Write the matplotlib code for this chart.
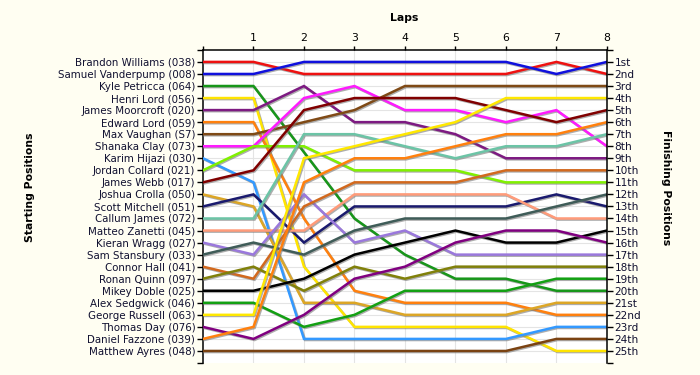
import numpy as np
import matplotlib
matplotlib.use('Agg')
import matplotlib.pyplot as plt
import matplotlib.patheffects as pe

laps = [0, 1, 2, 3, 4, 5, 6, 7, 8]

drivers = ['Brandon Williams (038)', 'Samuel Vanderpump (008)', 'Kyle Petricca (064)',
           'Henri Lord (056)', 'James Moorcroft (020)', 'Edward Lord (059)', 'Max Vaughan (S7)',
           'Shanaka Clay (073)', 'Karim Hijazi (030)', 'Jordan Collard (021)', 'James Webb (017)',
           'Joshua Crolla (050)', 'Scott Mitchell (051)', 'Callum James (072)',
           'Matteo Zanetti (045)', 'Kieran Wragg (027)', 'Sam Stansbury (033)',
           'Connor Hall (041)', 'Ronan Quinn (097)', 'Mikey Doble (025)', 'Alex Sedgwick (046)',
           'George Russell (063)', 'Thomas Day (076)', 'Daniel Fazzone (039)',
           'Matthew Ayres (048)']

colors = ['#ee1111', '#1010dd', '#17961a', '#ffe400', '#7d1a82', '#ff800e', '#7f4a16',
          '#ff1aff', '#3399ff', '#80f000', '#800000', '#dca626', '#1a1a6e', '#6cc4a6',
          '#ff9b7a', '#9a78dc', '#3f5c58', '#d2691e', '#80800a', '#000000', '#13a013',
          '#ffe800', '#800080', '#ff800e', '#7a4212']

# position after each lap (lap 0 = grid), None = no reading
positions = [
    [1, 1, 2, 2, 2, 2, 2, 1, 2],
    [2, 2, 1, 1, 1, 1, 1, 2, 1],
    [3, 3, None, 14, 17, 19, 19, 20, 20],
    [4, 4, 18, 23, 23, 23, 23, 25, 25],
    [5, 5, 3, 6, 6, 7, 9, 9, 9],
    [6, 6, 14, 20, 21, 21, 21, 22, 22],
    [7, 7, 6, 5, 3, 3, 3, 3, 3],
    [8, 8, 4, 3, 5, 5, 6, 5, 8],
    [9, 11, 24, 24, 24, 24, 24, 23, 23],
    [10, 8, 8, 10, 10, 10, 11, 11, 11],
    [11, 10, 5, 4, 4, 4, 5, 6, 5],
    [12, 13, 21, 21, 22, 22, 22, 21, 21],
    [13, 12, 16, 13, 13, 13, 13, 12, 13],
    [14, 14, 7, 7, 8, 9, 8, 8, 7],
    [15, 15, 15, 12, 12, 12, 12, 14, 14],
    [16, 17, 12, 16, 15, 17, 17, 17, 17],
    [17, 16, 17, 15, 14, 14, 14, 13, 12],
    [18, 19, 13, 11, 11, 11, 10, 10, 10],
    [19, 18, 20, 18, 19, 18, 18, 18, 18],
    [20, 20, 19, 17, 16, 15, 16, 16, 15],
    [21, 21, 23, 22, 20, 20, 20, 19, 19],
    [22, 22, 9, 8, 7, 6, 4, 4, 4],
    [23, 24, 22, 19, 18, 16, 15, 15, 16],
    [24, 23, 11, 9, 9, 8, 7, 7, 6],
    [25, 25, 25, 25, 25, 25, 25, 24, 24],
]

finish_labels = ['1st', '2nd', '3rd', '4th', '5th', '6th', '7th', '8th', '9th', '10th',
                 '11th', '12th', '13th', '14th', '15th', '16th', '17th', '18th', '19th',
                 '20th', '21st', '22nd', '23rd', '24th', '25th']

bg = '#fffef2'
plt.rcParams['font.family'] = ['DejaVu Sans']

fig = plt.figure(figsize=(7, 3.75), dpi=100, facecolor=bg)
ax = fig.add_axes([0.29, 0.032, 0.577, 0.835])
ax.set_facecolor('white')

n = len(drivers)
ax.set_xlim(0, 8)
ax.set_ylim(n + 1, 0)

for k in range(1, n + 1):
    ax.axhline(k, color='#e4e4e4', lw=0.8, zorder=0)
for x in laps[1:-1]:
    ax.axvline(x, color='#e4e4e4', lw=0.8, zorder=0)

shadow = [pe.SimpleLineShadow(offset=(0.8, -0.8), shadow_color='#777777', alpha=0.6),
          pe.Normal()]
for name, col, pos in zip(drivers, colors, positions):
    xs = [l for l, p in zip(laps, pos) if p is not None]
    ys = [p for p in pos if p is not None]
    ax.plot(xs, ys, color=col, lw=1.8, solid_joinstyle='miter', path_effects=shadow,
            zorder=3)

# left axis: starting grid
ax.set_yticks(range(0, n + 2))
ax.set_yticklabels([''] + drivers + [''], fontsize=7.4, color='#101030')
ax.tick_params(axis='y', direction='out', length=4.5, width=1, pad=1)

# top axis: laps
ax.xaxis.tick_top()
ax.set_xticks(laps)
ax.set_xticklabels([''] + [str(l) for l in laps[1:]], fontsize=7.8)
ax.tick_params(axis='x', direction='out', length=3, width=1, pad=2)

for s in ['left', 'top']:
    ax.spines[s].set_linewidth(1.1)
ax.spines['bottom'].set_visible(False)
ax.spines['right'].set_visible(False)

# right axis: finishing order
ax2 = ax.twinx()
ax2.set_ylim(n + 1, 0)
ax2.set_yticks(range(0, n + 2))
ax2.set_yticklabels([''] + finish_labels + [''], fontsize=7.6, color='#101030')
ax2.tick_params(axis='y', direction='out', length=4.5, width=1, pad=1)
ax2.spines['right'].set_linewidth(1.1)
ax2.spines['left'].set_visible(False)
ax2.spines['top'].set_visible(False)
ax2.spines['bottom'].set_visible(False)

fig.text(0.578, 0.952, 'Laps', ha='center', va='center', fontsize=7.8, fontweight='bold')
fig.text(0.043, 0.5, 'Starting Positions', rotation=90, ha='center', va='center',
         fontsize=7.8, fontweight='bold')
fig.text(0.952, 0.5, 'Finishing Positions', rotation=270, ha='center', va='center',
         fontsize=7.8, fontweight='bold')

fig.savefig('out.png', dpi=100, facecolor=bg)
